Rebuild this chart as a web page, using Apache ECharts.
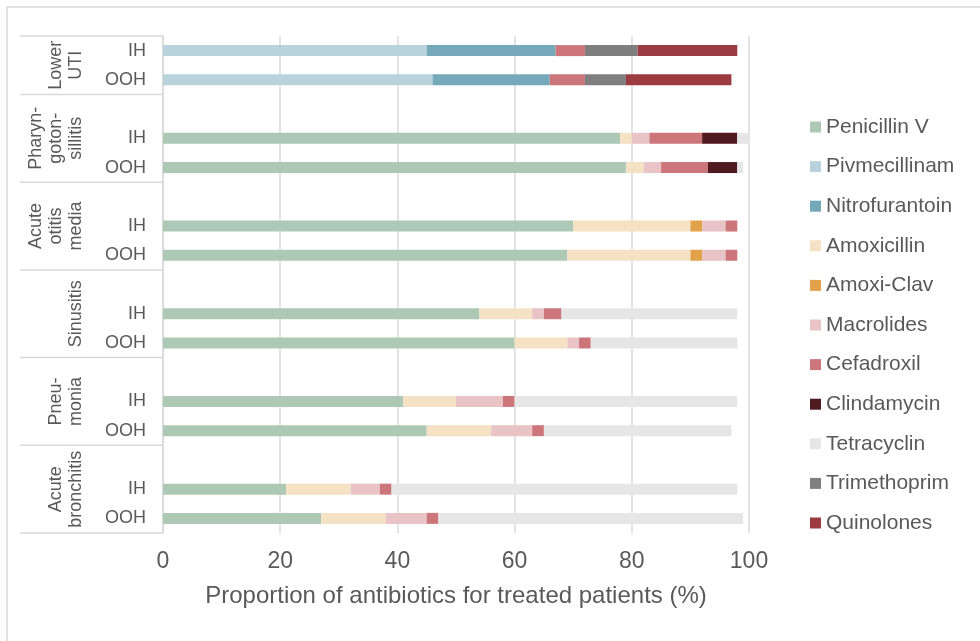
<!DOCTYPE html>
<html>
<head>
<meta charset="utf-8">
<script src="https://cdn.jsdelivr.net/npm/echarts@6/dist/echarts.min.js"></script>
<style>
html,body{margin:0;padding:0;background:#fff;}
#c{width:980px;height:641px;}
</style>
</head>
<body>
<div id="c"></div>
<script>
// Groups (top to bottom) and rows within each group
const groups = ['Lower\nUTI', 'Pharyn-\ngoton-\nsillitis', 'Acute\notitis\nmedia', 'Sinusitis', 'Pneu-\nmonia', 'Acute\nbronchitis'];
const rows = ['IH', 'OOH'];
const xTicks = [0, 20, 40, 60, 80, 100];
const seriesNames = ['Penicillin V', 'Pivmecillinam', 'Nitrofurantoin', 'Amoxicillin', 'Amoxi-Clav', 'Macrolides', 'Cefadroxil', 'Clindamycin', 'Tetracyclin', 'Trimethoprim', 'Quinolones'];
const seriesColors = ['#adc9b6', '#b9d3dc', '#75a8b9', '#f5e1c3', '#e2a24a', '#e8c4c7', '#cc767c', '#4f1b21', '#e6e6e6', '#7f7f7f', '#9c3b41'];

// Values per row, top to bottom: UTI IH, UTI OOH, Pharyn IH, OOH, Otitis IH, OOH, Sinus IH, OOH, Pneu IH, OOH, Bronch IH, OOH
const penicillinV    = [0, 0, 78, 79, 70, 69, 54, 60, 41, 45, 21, 27];
const pivmecillinam  = [45, 46, 0, 0, 0, 0, 0, 0, 0, 0, 0, 0];
const nitrofurantoin = [22, 20, 0, 0, 0, 0, 0, 0, 0, 0, 0, 0];
const amoxicillin    = [0, 0, 2, 3, 20, 21, 9, 9, 9, 11, 11, 11];
const amoxiClav      = [0, 0, 0, 0, 2, 2, 0, 0, 0, 0, 0, 0];
const macrolides     = [0, 0, 3, 3, 4, 4, 2, 2, 8, 7, 5, 7];
const cefadroxil     = [5, 6, 9, 8, 2, 2, 3, 2, 2, 2, 2, 2];
const clindamycin    = [0, 0, 6, 5, 0, 0, 0, 0, 0, 0, 0, 0];
const tetracyclin    = [0, 0, 2, 1, 0, 0, 30, 25, 38, 32, 59, 52];
const trimethoprim   = [9, 7, 0, 0, 0, 0, 0, 0, 0, 0, 0, 0];
const quinolones     = [17, 18, 0, 0, 0, 0, 0, 0, 0, 0, 0, 0];

const seriesValues = [penicillinV, pivmecillinam, nitrofurantoin, amoxicillin, amoxiClav, macrolides, cefadroxil, clindamycin, tetracyclin, trimethoprim, quinolones];

// Build category list with blank spacer slots between groups
const categories = [];
const rowIndexOfCat = [];
groups.forEach((g, gi) => {
  if (gi > 0) { categories.push('gap' + gi); rowIndexOfCat.push(-1); }
  rows.forEach((r, ri) => { categories.push(gi + '|' + r); rowIndexOfCat.push(gi * rows.length + ri); });
});

const FONT = '"Liberation Sans", Arial, sans-serif';
const TXT = '#595959';
const GRIDC = '#d9d9d9';

const series = seriesNames.map((name, si) => ({
  name: name,
  type: 'bar',
  stack: 'total',
  barWidth: 11,
  itemStyle: { color: seriesColors[si] },
  data: rowIndexOfCat.map(ri => (ri < 0 || seriesValues[si][ri] === 0) ? '-' : seriesValues[si][ri])
}));

const chart = echarts.init(document.getElementById('c'), null, { renderer: 'canvas' });

const option = {
  animation: false,
  backgroundColor: '#fff',
  textStyle: { fontFamily: FONT },
  grid: { left: 163, right: 231, top: 36, bottom: 108, containLabel: false },
  legend: {
    orient: 'vertical',
    left: 810,
    top: 115,
    padding: 0,
    itemWidth: 11,
    itemHeight: 11,
    itemGap: 15.6,
    icon: 'rect',
    data: seriesNames,
    textStyle: { fontSize: 21, color: TXT, fontFamily: FONT, lineHeight: 24 }
  },
  xAxis: {
    type: 'value',
    min: xTicks[0],
    max: xTicks[xTicks.length - 1],
    interval: xTicks[1] - xTicks[0],
    axisLine: { show: false },
    axisTick: { show: false },
    axisLabel: { fontSize: 23, color: TXT, margin: 17, fontFamily: FONT },
    splitLine: { show: true, lineStyle: { color: GRIDC, width: 1.5 } },
    name: 'Proportion of antibiotics for treated patients (%)',
    nameLocation: 'middle',
    nameGap: 51,
    nameTextStyle: { fontSize: 24, color: TXT, fontFamily: FONT }
  },
  yAxis: {
    type: 'category',
    inverse: true,
    data: categories,
    axisLine: { show: true, lineStyle: { color: GRIDC, width: 1.5 } },
    axisTick: { show: false },
    axisLabel: {
      fontSize: 18, color: TXT, margin: 17, fontFamily: FONT, interval: 0,
      formatter: v => v.indexOf('|') >= 0 ? v.split('|')[1] : ''
    },
    splitLine: { show: false }
  },
  series: series
};

chart.setOption(option);

// Group table lines and rotated group labels
function buildGraphic() {
  const p0 = chart.convertToPixel({ yAxisIndex: 0 }, 0);
  const p1 = chart.convertToPixel({ yAxisIndex: 0 }, 1);
  const band = p1 - p0;
  const top = p0 - band / 2;
  const els = [];
  // outer frame
  els.push({ type: 'rect', shape: { x: 7, y: 7, width: 1000, height: 700 }, style: { fill: null, stroke: GRIDC, lineWidth: 1.5 }, silent: true });
  const boundaries = [top];
  const centers = [];
  let idx = 0;
  groups.forEach((g, gi) => {
    const endIdx = idx + rows.length - 1;
    const startY = boundaries[boundaries.length - 1];
    const endY = chart.convertToPixel({ yAxisIndex: 0 }, endIdx) + band / 2;
    boundaries.push(endY);
    centers.push((startY + endY) / 2);
    idx = endIdx + 2;
  });
  boundaries.forEach(y => {
    els.push({ type: 'line', shape: { x1: 20, y1: y, x2: 163, y2: y }, style: { stroke: GRIDC, lineWidth: 1.5 }, silent: true });
  });
  groups.forEach((g, gi) => {
    els.push({
      type: 'text', x: 86, y: centers[gi], rotation: Math.PI / 2,
      style: { text: g, fontSize: 18, fontFamily: FONT, fill: TXT, align: 'center', verticalAlign: 'bottom', lineHeight: 20 },
      silent: true
    });
  });
  chart.setOption({ graphic: { elements: els } });
}
buildGraphic();
</script>
</body>
</html>
